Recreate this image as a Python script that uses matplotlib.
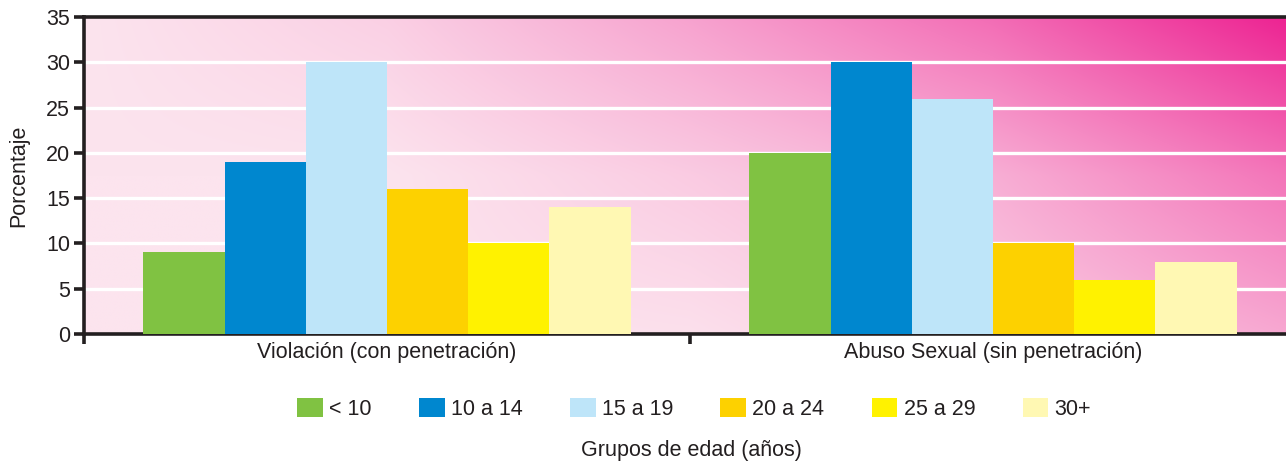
import numpy as np
import matplotlib
matplotlib.use("Agg")
import matplotlib.pyplot as plt
from matplotlib.colors import to_rgb
from matplotlib.patches import Patch

plt.rcParams['font.family'] = ['Liberation Sans', 'DejaVu Sans']

categories = ["Violación (con penetración)", "Abuso Sexual (sin penetración)"]
age_groups = ["< 10", "10 a 14", "15 a 19", "20 a 24", "25 a 29", "30+"]
values = {
    "< 10":    [9, 20],
    "10 a 14": [19, 30],
    "15 a 19": [30, 26],
    "20 a 24": [16, 10],
    "25 a 29": [10, 6],
    "30+":     [14, 8],
}
colors = ["#80c242", "#0087cf", "#bee5f9", "#fdd100", "#fff200", "#fff8b3"]
yticks = [0, 5, 10, 15, 20, 25, 30, 35]

TXT = "#231f20"
FS = 15.5
W, H = 1286, 461
fig = plt.figure(figsize=(W / 100, H / 100), dpi=100)
ax = fig.add_axes([84 / W, 1 - 334 / H, 1212 / W, (334 - 17) / H])

# background gradient (light pink -> magenta towards top right)
gx_ctrl = np.array([0.0, 0.25, 0.5, 0.75, 1.0])
gy_ctrl = np.array([0.0, 0.5, 1.0])
t_ctrl = np.array([
    [0.0, 0.0, 0.02, 0.12, 0.30],   # bottom
    [0.0, 0.0, 0.12, 0.26, 0.55],   # middle
    [0.0, 0.10, 0.32, 0.58, 0.95],  # top
])
nx, ny = 600, 200
xs = np.linspace(0, 1, nx)
ys = np.linspace(0, 1, ny)
rows = np.array([np.interp(xs, gx_ctrl, r) for r in t_ctrl])
t = np.array([np.interp(ys, gy_ctrl, rows[:, j]) for j in range(nx)]).T
c0 = np.array(to_rgb("#fce4ee"))
c1 = np.array(to_rgb("#ec168c"))
img = c0[None, None, :] * (1 - t[..., None]) + c1[None, None, :] * t[..., None]
ax.imshow(img, extent=[-0.5, 1.5, 0, 35], origin="lower", aspect="auto",
          zorder=0, interpolation="bilinear")

n = len(age_groups)
bw = 0.134
x = np.arange(len(categories))
for i, (g, col) in enumerate(zip(age_groups, colors)):
    offs = (i - (n - 1) / 2) * bw
    ax.bar(x + offs, values[g], width=bw, color=col, zorder=3, linewidth=0)

for yv in yticks[1:-1]:
    ax.axhline(yv, color="white", lw=2.4, zorder=1)

ax.set_xlim(-0.5, 1.5)
ax.set_ylim(0, 35)
ax.set_yticks(yticks)
ax.set_xticks([-0.5, 0.5, 1.5])
ax.set_xticklabels([])
ax.set_xticks(x, minor=True)
ax.set_xticklabels(categories, minor=True)
ax.tick_params(axis="x", which="minor", length=0, labelsize=FS, pad=6, colors=TXT)
ax.tick_params(axis="x", which="major", length=7, width=2.6, color=TXT)
ax.tick_params(axis="y", length=7, width=2.6, labelsize=FS, pad=3, color=TXT, labelcolor=TXT)

for s in ["left", "bottom", "top"]:
    ax.spines[s].set_linewidth(2.6)
    ax.spines[s].set_color(TXT)
ax.spines["right"].set_visible(False)

ax.set_ylabel("Porcentaje", fontsize=FS, color=TXT)
ax.yaxis.set_label_coords(-0.045, 0.5)

handles = [Patch(facecolor=c, edgecolor="none") for c in colors]
fig.legend(handles, age_groups, loc="center", bbox_to_anchor=(694 / W, 1 - 409 / H),
           ncol=6, frameon=False, fontsize=FS, handlelength=1.2, handleheight=1.0,
           handletextpad=0.28, columnspacing=2.2, labelcolor=TXT)
fig.text(691 / W, 1 - 450 / H, "Grupos de edad (años)", ha="center", va="center",
         fontsize=FS, color=TXT)

fig.savefig("out.png", dpi=100)
